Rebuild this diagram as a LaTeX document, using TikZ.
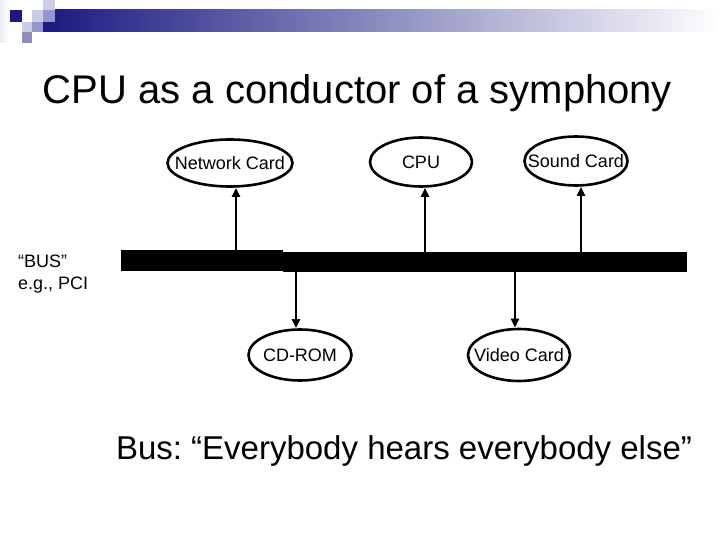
\documentclass[tikz,border=0pt]{standalone}
\usepackage{fontspec}
\setmainfont{Liberation Sans}
\usepackage{xcolor}
\definecolor{hd}{RGB}{26, 26, 128}
\definecolor{lv}{RGB}{204, 204, 232}
\definecolor{md}{RGB}{150, 150, 204}
\definecolor{pm}{RGB}{140, 140, 190}
\usetikzlibrary{arrows.meta,shapes.geometric}
% text may run to the ellipse edge, as on the slide
\newcommand{\devtext}[1]{\makebox[0pt]{#1}}
\frenchspacing

\begin{document}
\begin{tikzpicture}[x=1pt, y=-1pt,
        dev/.style={ellipse, draw, line width=2.6pt, inner sep=0pt, font=\fontsize{18}{21}\selectfont},
        busbar/.style={fill=black, inner sep=0pt, outer sep=0pt},
        sig/.style={line width=2.6pt, -{Triangle[length=9pt, width=8pt]}}]
        % Page frame, measured in pixels from the top left
        \useasboundingbox (0,0) rectangle (720,540);

        % Header strip with its little squares
        \shade[left color=lv!40, right color=white] (0,0) rectangle (8,43);
        \shade[left color=hd, right color=white] (43,10) rectangle (720,32);
        \fill[hd] (10,10) rectangle (22,22);
        \fill[lv] (32,10) rectangle (43,22);
        \fill[md] (43,10) rectangle (55,22);
        \fill[lv] (43,0) rectangle (55,10);
        \fill[lv] (22,22) rectangle (32,32);
        \fill[md] (32,22) rectangle (43,32);
        \fill[pm] (22,32) rectangle (32,43);

        % Texts
        \node[anchor=base, font=\fontsize{40}{48}\selectfont] (title) at (357.5,104) {CPU as a conductor of a symphony};
        \node[anchor=north west, align=left, inner sep=0pt, font=\fontsize{18}{22}\selectfont] (busnote) at (18,255) {“BUS”\\e.g., PCI};
        \node[anchor=base, font=\fontsize{33}{40}\selectfont] (slogan) at (404,459) {Bus: “Everybody hears everybody else”};

        % The bus itself, in two pieces
        \node[busbar, minimum width=162pt, minimum height=21pt, anchor=north west] (busL) at (121,250) {};
        \node[busbar, minimum width=404pt, minimum height=20pt, anchor=north west] (busR) at (283,252) {};

        % Devices above and below the bus
        \node[dev, minimum width=125pt, minimum height=47pt] (net) at (230,163) {\devtext{Network Card}};
        \node[dev, minimum width=102pt, minimum height=49pt] (cpu) at (421,162) {\devtext{CPU}};
        \node[dev, minimum width=103pt, minimum height=49pt] (sound) at (576,161) {\devtext{Sound Card}};
        \node[dev, minimum width=103pt, minimum height=51pt] (cdrom) at (300,355) {\devtext{CD-ROM}};
        \node[dev, minimum width=102pt, minimum height=52pt] (video) at (519,355) {\devtext{Video Card}};

        % Arrows between bus and devices
        \draw[sig] ([xshift=6pt]net.south |- busL.north) -- ([xshift=6pt]net.south);
        \draw[sig] ([xshift=4pt]cpu.south |- busR.north) -- ([xshift=4pt]cpu.south);
        \draw[sig] ([xshift=5pt]sound.south |- busR.north) -- ([xshift=5pt]sound.south);
        \draw[sig] ([xshift=-4pt]cdrom.north |- busR.south) -- ([xshift=-4pt]cdrom.north);
        \draw[sig] ([xshift=-4pt]video.north |- busR.south) -- ([xshift=-4pt]video.north);
    \end{tikzpicture}
\end{document}
